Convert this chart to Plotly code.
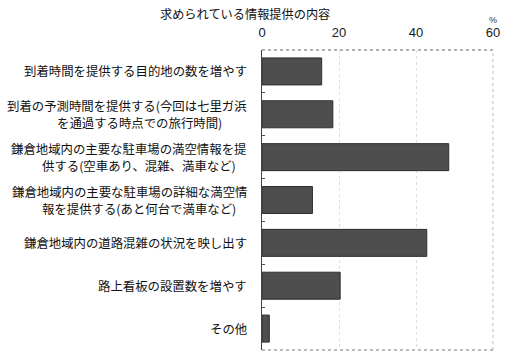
import plotly.graph_objects as go

title = "求められている情報提供の内容"
categories = [
    ["到着時間を提供する目的地の数を増やす"],
    ["到着の予測時間を提供する(今回は七里ガ浜", "を通過する時点での旅行時間)"],
    ["鎌倉地域内の主要な駐車場の満空情報を提", "供する(空車あり、混雑、満車など)"],
    ["鎌倉地域内の主要な駐車場の詳細な満空情", "報を提供する(あと何台で満車など)"],
    ["鎌倉地域内の道路混雑の状況を映し出す"],
    ["路上看板の設置数を増やす"],
    ["その他"],
]
values = [15.5, 18.4, 48.5, 13.1, 42.8, 20.3, 1.9]
x_ticks = [0, 20, 40, 60]
unit = "%"

font_jp = "Noto Sans CJK JP, Noto Sans, sans-serif"
ids = [str(i) for i in range(len(categories))]

fig = go.Figure(go.Bar(
    y=ids, x=values, orientation="h",
    marker=dict(color="#4e4e4e", line=dict(color="#2e2e2e", width=1)),
    width=0.63,
))

PLOT_L, PLOT_W = 262, 231
def px(xpix):
    return (xpix - PLOT_L) / PLOT_W

lab_font = dict(family=font_jp, size=12.4, color="#111")
for i, lines in zip(ids, categories):
    if len(lines) == 1:
        fig.add_annotation(
            x=0, xref="paper", y=i, yref="y", text=lines[0], showarrow=False,
            xanchor="right", yanchor="middle", xshift=-13, font=lab_font,
        )
    else:
        fig.add_annotation(
            x=0, xref="paper", y=i, yref="y", text=lines[0], showarrow=False,
            xanchor="right", yanchor="middle", xshift=-13, yshift=8.5,
            font=lab_font,
        )
        fig.add_annotation(
            x=px(139), xref="paper", y=i, yref="y", text=lines[1],
            showarrow=False, xanchor="center", yanchor="middle", yshift=-8.5,
            font=lab_font,
        )

fig.add_annotation(
    x=px(245), xref="paper", y=1 + (50 - 14) / 300, yref="paper",
    text=title, showarrow=False, xanchor="center", yanchor="middle",
    font=dict(family=font_jp, size=12.2, color="#111"),
)
fig.add_annotation(
    x=1, xref="paper", y=1 + (50 - 20) / 300, yref="paper",
    text=unit, showarrow=False, xanchor="center", yanchor="middle",
    font=dict(family="Liberation Sans, Arial", size=9, color="#333"),
)

# borders
fig.add_shape(type="line", xref="paper", yref="paper", x0=0, x1=1, y0=1, y1=1,
              line=dict(color="#666", width=1, dash="dot"))
fig.add_shape(type="line", xref="paper", yref="paper", x0=0, x1=1, y0=0, y1=0,
              line=dict(color="#777", width=1, dash="dot"))
fig.add_shape(type="line", xref="paper", yref="paper", x0=1, x1=1, y0=0, y1=1,
              line=dict(color="#bbb", width=1, dash="dot"))

fig.update_layout(
    width=505, height=353,
    margin=dict(l=262, r=12, t=50, b=3),
    paper_bgcolor="white", plot_bgcolor="white",
    showlegend=False,
    xaxis=dict(
        side="top", range=[0, 60], tickvals=x_ticks, ticks="",
        ticklabelstandoff=9,
        showgrid=True, gridcolor="#dddddd", griddash="dot", gridwidth=1,
        zeroline=False, showline=False,
        tickfont=dict(family="Liberation Sans, Arial", size=13, color="#1a1a1a"),
    ),
    yaxis=dict(
        categoryorder="array", categoryarray=ids, autorange="reversed",
        showticklabels=False, ticks="inside", ticklen=3, tickcolor="#555",
        tickson="boundaries", showline=True, linecolor="#444", linewidth=1,
        showgrid=False, zeroline=False,
    ),
)

fig.write_html("out.html")
